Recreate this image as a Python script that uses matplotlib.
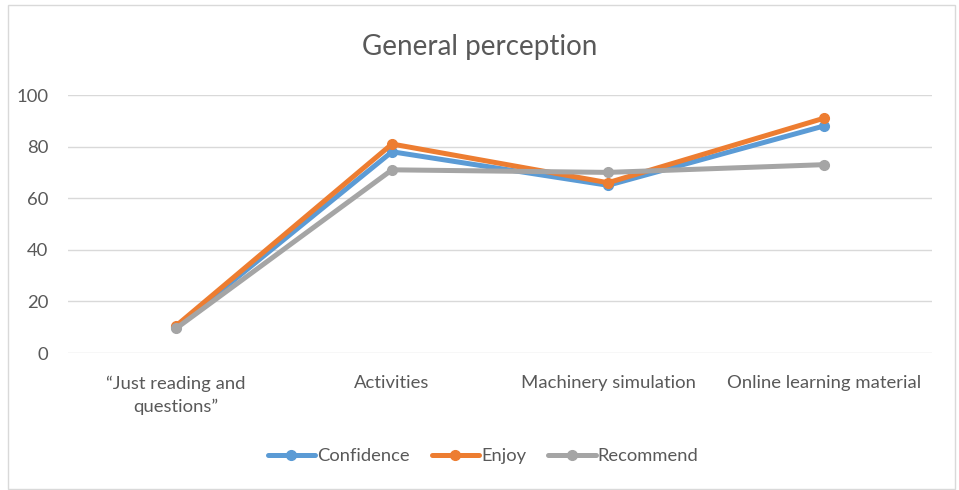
import matplotlib
matplotlib.use("Agg")
import matplotlib.pyplot as plt
from matplotlib.patches import Rectangle

categories = ["\u201cJust reading and\nquestions\u201d", "Activities", "Machinery simulation", "Online learning material"]
confidence = [10, 78, 65, 88]
enjoy = [10.5, 81, 66, 91]
recommend = [9.5, 71, 70, 73]
yticks = [0, 20, 40, 60, 80, 100]

plt.rcParams['font.family'] = ['Lato', 'DejaVu Sans']
fig = plt.figure(figsize=(9.59, 4.90), dpi=100)
fig.patch.set_facecolor('white')
fig.patches.append(Rectangle((8/959, 1/490), 947/959, 484/490, transform=fig.transFigure,
                             fill=False, edgecolor='#d9d9d9', linewidth=1))

ax = fig.add_axes([68/959, 1-353/490, 864/959, 258/490])
x = list(range(len(categories)))
series = [("Confidence", confidence, "#5b9bd5"), ("Enjoy", enjoy, "#ed7d31"), ("Recommend", recommend, "#a5a5a5")]
for name, vals, col in series:
    ax.plot(x, vals, color=col, linewidth=3.6, marker='o', markersize=7, label=name,
            solid_capstyle='round', solid_joinstyle='round')

ax.set_xlim(-0.5, 3.5)
ax.set_ylim(0, 100)
ax.set_yticks(yticks)
ax.set_xticks(x)
ax.set_xticklabels(categories, linespacing=1.55)
ax.grid(axis='y', color='#d9d9d9', linewidth=1)
ax.set_axisbelow(True)
for s in ax.spines.values():
    s.set_visible(False)
ax.tick_params(axis='both', length=0, labelsize=13.3, labelcolor='#595959')
ax.tick_params(axis='x', pad=16)
ax.tick_params(axis='y', pad=14)

fig.text(480/959, 1-47/490, "General perception", ha='center', va='center', fontsize=20, color='#595959')

leg = fig.legend(loc='center', bbox_to_anchor=(483/959, 1-456/490), ncol=3, frameon=False,
                 fontsize=13.2, handlelength=2.6, handletextpad=0.1, columnspacing=1.2)
for t in leg.get_texts():
    t.set_color('#595959')

fig.savefig("out.png", dpi=100)
